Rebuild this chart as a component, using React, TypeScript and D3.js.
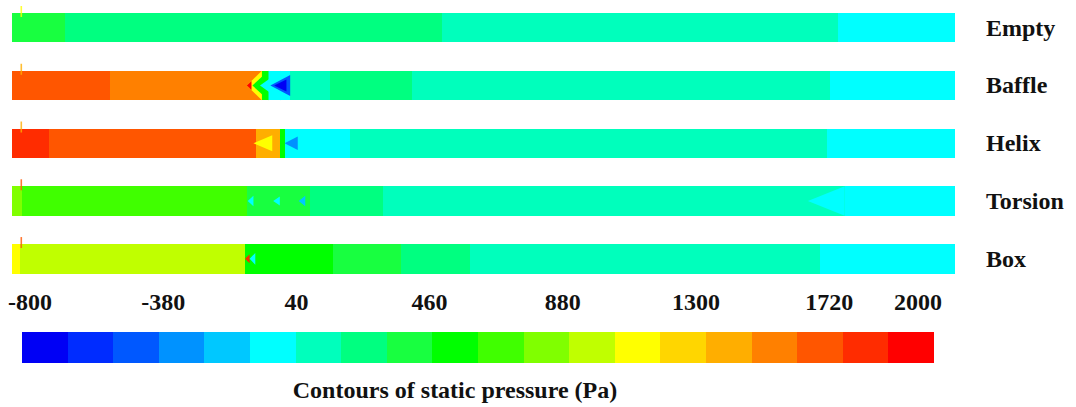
import React from "react";
import * as d3 from "d3";

// ---------- data ----------
const categories = ["Empty", "Baffle", "Helix", "Torsion", "Box"];

const tickValues = [-800, -380, 40, 460, 880, 1300, 1720, 2000];
const pressureMin = -800;
const pressureMax = 2000;
const bandCount = 20;

// Fluent-style 20-band rainbow palette (low -> high)
const palette = [
  "#0000f5", "#002cff", "#0058ff", "#0092ff", "#00c8ff",
  "#00ffff", "#00ffbc", "#00ff80", "#18ff40", "#00ff00",
  "#40ff00", "#80ff00", "#c0ff00", "#ffff00", "#ffd600",
  "#ffae00", "#ff8000", "#ff5600", "#ff2c00", "#ff0000",
];

// segments along the pipe: [start %, end %, static pressure (Pa)]
const emptySegments = [
  [0, 5.6, 390], [5.6, 45.6, 250], [45.6, 87.6, 110], [87.6, 100, -30],
];
const baffleSegments = [
  [0, 10.4, 1650], [10.4, 26.5, 1510], [26.5, 27.2, 530], [27.2, 29.5, -30],
  [29.5, 33.7, 110], [33.7, 42.4, 250], [42.4, 86.7, 110], [86.7, 100, -30],
];
const helixSegments = [
  [0, 3.9, 1790], [3.9, 25.9, 1650], [25.9, 28.4, 1370], [28.4, 28.9, 530],
  [28.9, 35.8, -30], [35.8, 86.4, 110], [86.4, 100, -30],
];
const torsionSegments = [
  [0, 1.1, 810], [1.1, 24.9, 670], [24.9, 31.6, 390], [31.6, 39.3, 250],
  [39.3, 88.3, 110], [88.3, 100, -30],
];
const boxSegments = [
  [0, 0.9, 1090], [0.9, 24.7, 950], [24.7, 34.0, 530], [34.0, 41.2, 390],
  [41.2, 48.6, 250], [48.6, 85.7, 110], [85.7, 100, -30],
];

// wedge-shaped zones (apex %, base %, height fraction, pressure)
const emptyWedges: number[][] = [];
const baffleWedges = [
  [24.9, 26.5, 1, 1090], [25.5, 27.2, 1, 530], [26.3, 28.5, 1, -30],
  [27.4, 29.5, 0.72, -450], [27.8, 29.1, 0.4, -730], [24.9, 25.4, 0.3, 1930],
];
const helixWedges = [
  [25.6, 27.6, 0.55, 1090], [28.9, 30.3, 0.45, -310],
];
const torsionWedges = [
  [84.4, 88.3, 1, -30], [25.0, 25.6, 0.35, -30], [27.7, 28.4, 0.3, -30],
  [30.4, 31.1, 0.35, -170],
];
const boxWedges = [
  [24.7, 25.2, 0.3, 1790], [25.2, 25.8, 0.4, -30],
];

const segmentsByCase = [emptySegments, baffleSegments, helixSegments, torsionSegments, boxSegments];
const wedgesByCase = [emptyWedges, baffleWedges, helixWedges, torsionWedges, boxWedges];
// small inlet marker at the pipe entrance (pressure of its colour)
const inletPressure = [1090, 1370, 1370, 1650, 1650];

const title = "Contours of static pressure (Pa)";

// ---------- component ----------
export default function App() {
  const W = 1076;
  const H = 407;
  const font = "'Liberation Serif', 'Times New Roman', serif";

  const color = d3
    .scaleQuantize<string>()
    .domain([pressureMin, pressureMax])
    .range(palette);

  const xPipe = d3.scaleLinear().domain([0, 100]).range([12, 955]);
  const yCase = d3
    .scaleBand<string>()
    .domain(categories)
    .range([13, 273.5])
    .paddingInner(0.49)
    .paddingOuter(0);
  const bw = yCase.bandwidth();

  const xBar = d3.scaleLinear().domain([pressureMin, pressureMax]).range([22, 934]);
  const xTick = d3.scaleLinear().domain([pressureMin, pressureMax]).range([30, 918]);
  const bandStep = (pressureMax - pressureMin) / bandCount;
  const bandStarts = d3.range(bandCount).map((i) => pressureMin + i * bandStep);

  return (
    <svg
      width={W}
      height={H}
      style={{ position: "absolute", left: 0, top: 0, background: "#fff" }}
      fontFamily={font}
    >
      {categories.map((c, ci) => {
        const y0 = yCase(c)!;
        const cy = y0 + bw / 2;
        return (
          <g key={c}>
            {segmentsByCase[ci].map((s, i) => (
              <rect
                key={i}
                x={xPipe(s[0])}
                y={y0}
                width={Math.max(0, xPipe(s[1]) - xPipe(s[0]))}
                height={bw}
                fill={color(s[2])}
                shapeRendering="crispEdges"
              />
            ))}
            {wedgesByCase[ci].map((w, i) => {
              const ax = xPipe(w[0]);
              const bx = xPipe(w[1]);
              const hh = (w[2] * bw) / 2;
              return (
                <path
                  key={"w" + i}
                  d={`M${ax},${cy}L${bx},${cy - hh}L${bx},${cy + hh}Z`}
                  fill={color(w[3])}
                />
              );
            })}
            <rect
              x={xPipe(0.9)}
              y={y0 - 7}
              width={1.6}
              height={11}
              fill={color(inletPressure[ci])}
              opacity={0.8}
            />
            <text
              x={986}
              y={cy + 8}
              fontSize={24}
              fontWeight="bold"
              fill="#111"
            >
              {c}
            </text>
          </g>
        );
      })}

      {/* colour bar */}
      {bandStarts.map((b, i) => (
        <rect
          key={i}
          x={xBar(b)}
          y={332}
          width={xBar(b + bandStep) - xBar(b)}
          height={31}
          fill={color(b + bandStep / 2)}
          shapeRendering="crispEdges"
        />
      ))}
      {tickValues.map((t) => (
        <text
          key={t}
          x={xTick(t)}
          y={310}
          textAnchor="middle"
          fontSize={24}
          fontWeight="bold"
          fill="#111"
        >
          {t}
        </text>
      ))}
      <text
        x={455}
        y={398}
        textAnchor="middle"
        fontSize={24}
        fontWeight="bold"
        fill="#111"
      >
        {title}
      </text>
    </svg>
  );
}
